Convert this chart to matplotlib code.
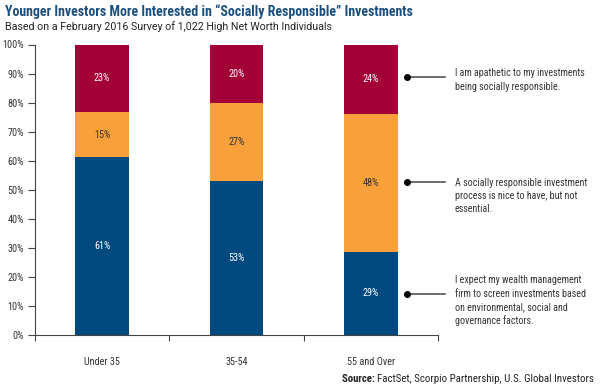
import matplotlib.pyplot as plt
import numpy as np
from matplotlib import font_manager

# survey data (percent of respondents)
groups = ["Under 35", "35-54", "55 and Over"]
screen_esg = [61.4, 53.0, 28.6]      # expect wealth manager to screen on ESG
nice_to_have = [15.2, 26.8, 47.6]    # nice to have, but not essential
apathetic = [23.4, 20.2, 23.8]       # apathetic

notes = [
    "I am apathetic to my investments\nbeing socially responsible.",
    "A socially responsible investment\nprocess is nice to have, but not\nessential.",
    "I expect my wealth management\nfirm to screen investments based\non environmental, social and\ngovernance factors.",
]

names = {f.name for f in font_manager.fontManager.ttflist}


def pick(cands):
    for c in cands:
        if c in names:
            return c
    return 'DejaVu Sans'


narrow = pick(["Roboto Condensed", "Liberation Sans Narrow", "Open Sans Condensed",
               "Noto Sans Condensed", "DejaVu Sans Condensed", "Roboto", "Liberation Sans"])
plain = pick(["Roboto", "Liberation Sans", "Lato"])
plt.rcParams['font.family'] = [narrow, 'DejaVu Sans']

blue = '#004A80'
orange = '#F8A13A'
red = '#A20036'
textgray = '#333333'

fig = plt.figure(figsize=(6, 3.89), dpi=100)
ax = fig.add_axes([35 / 600, 1 - 335 / 389, 403 / 600, 290.5 / 389])

x = np.arange(len(groups)) + 0.5
w = 0.40
b1 = np.array(screen_esg)
b2 = b1 + np.array(nice_to_have)
ax.bar(x, screen_esg, w, color=blue)
ax.bar(x, nice_to_have, w, bottom=b1, color=orange)
ax.bar(x, apathetic, w, bottom=b2, color=red)

for i in range(len(groups)):
    ax.text(x[i], screen_esg[i] / 2, f"{round(screen_esg[i])}%", ha='center', va='center',
            color='white', fontsize=7.3)
    ax.text(x[i], b1[i] + nice_to_have[i] / 2, f"{round(nice_to_have[i])}%", ha='center',
            va='center', color=textgray, fontsize=7.3)
    ax.text(x[i], b2[i] + apathetic[i] / 2, f"{round(apathetic[i])}%", ha='center',
            va='center', color='white', fontsize=7.3)

ax.set_xlim(0, 3)
ax.set_ylim(0, 100)
ax.set_yticks(np.arange(0, 101, 10))
ax.set_yticklabels([f"{v}%" for v in range(0, 101, 10)])
ax.set_xticks([0, 1, 2, 3])
ax.set_xticklabels([])
ax.set_xticks(x, minor=True)
ax.set_xticklabels(groups, minor=True)
ax.tick_params(axis='x', which='major', length=4, color='#444444', direction='out')
ax.tick_params(axis='x', which='minor', length=0, pad=16, labelsize=7.3, labelcolor=textgray)
ax.tick_params(axis='y', length=5, color='#444444', labelsize=7.3, labelcolor=textgray, pad=3)
for s in ['top', 'right']:
    ax.spines[s].set_visible(False)
for s in ['left', 'bottom']:
    ax.spines[s].set_color('#444444')
    ax.spines[s].set_linewidth(0.8)

# callouts to the right of the last bar
dot_y = [88.8, 52.5, 14.2]
text_y = [91.8, 54.2, 20.5]
for note, dy, ty in zip(notes, dot_y, text_y):
    ax.plot([0.923, 1.017], [dy, dy], color='#444444', lw=1.1,
            transform=ax.get_yaxis_transform(), clip_on=False)
    ax.plot([0.923], [dy], 'o', color='black', ms=4,
            transform=ax.get_yaxis_transform(), clip_on=False)
    ax.text(1.042, ty, note, transform=ax.get_yaxis_transform(), ha='left', va='top',
            fontsize=7.2, color=textgray, linespacing=1.4)

fig.text(5 / 600, 1 - 12 / 389, "Younger Investors More Interested in \u201cSocially Responsible\u201d Investments",
         fontsize=10, fontweight='bold', color='#1C4F7E', va='center', ha='left',
         family=[narrow, 'DejaVu Sans'])
fig.text(5 / 600, 1 - 27 / 389, "Based on a February 2016 Survey of 1,022 High Net Worth Individuals",
         fontsize=7.7, color='#222222', va='center', ha='left', family=[plain, 'DejaVu Sans'])

src = fig.text(594 / 600, 1 - 379 / 389, "FactSet, Scorpio Partnership, U.S. Global Investors",
               fontsize=7.8, color='#222222', ha='right', va='center')
plt.annotate("Source: ", xy=(0, 0.5), xycoords=src, ha='right', va='center',
             fontsize=7.8, fontweight='bold', color='#222222', annotation_clip=False)

fig.savefig("out.png", dpi=100)
